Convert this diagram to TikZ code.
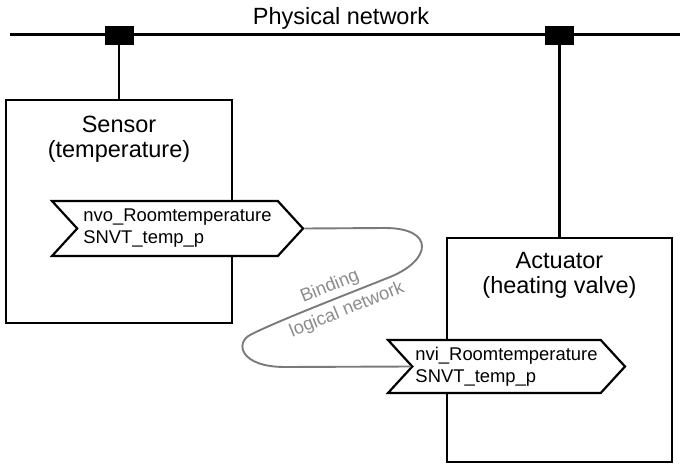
\documentclass[tikz,border=0pt]{standalone}
\usepackage{fontspec}
\setmainfont{Liberation Sans}
\usetikzlibrary{positioning,shapes.symbols}
\definecolor{LinkGray}{HTML}{7A7A7A}
\definecolor{LabelGray}{HTML}{8C8C8C}
\tikzset{
  device/.style={draw, line width=2.4pt, inner sep=0pt},
  devtext/.style={align=center, inner sep=0pt, font=\fontsize{23.5}{25}\selectfont},
  tap/.style={draw, fill=black, minimum width=28pt, minimum height=18pt, inner sep=0pt},
  port/.style={signal, signal from=west, signal to=east, signal pointer angle=95, draw, fill=white, line width=2.2pt, minimum height=55pt, align=left, inner sep=0pt, font=\fontsize{18.4}{22}\selectfont},
  wire/.style={line width=2.2pt},
  binding/.style={draw=LinkGray, line width=1.9pt},
  bindtext/.style={text=LabelGray, rotate=22, inner sep=0pt, font=\fontsize{18.4}{22}\selectfont}
}

\begin{document}
\begin{tikzpicture}[x=1pt, y=-1pt]
    \useasboundingbox (0,0) rectangle (680,465);
    \coordinate (busW) at (10,34.5);
    \coordinate (busE) at (680,34.5);
    \draw[wire] (busW) -- (busE);
    \node[anchor=base, font=\fontsize{23.5}{25}\selectfont] (bus) at (341,25) {Physical network};
    \node[tap] (tapS) at (119,35) {};
    \node[tap] (tapA) at (559.5,35) {};

    \node[device, minimum width=226pt, minimum height=223pt] (sensor) at (119,211.5) {};
    \node[device, minimum width=225pt, minimum height=224pt] (actuator) at (559.5,350) {};
    \node[devtext, below=17pt of sensor.north] (sensorname) {Sensor\\(temperature)};
    \node[devtext, below=15pt of actuator.north] (actuatorname) {Actuator\\(heating valve)};

    \draw[wire] (tapS) -- (sensor);
    \draw[wire] (tapA) -- (actuator);

    \node[port, minimum width=251pt] (nvo) at (177.5,228.5) {nvo\_Roomtemperature\\SNVT\_temp\_p};
    \node[port, minimum width=237pt, minimum height=53pt] (nvi) at (506.5,366.5) {nvi\_Roomtemperature\\SNVT\_temp\_p};

    \draw[binding] (nvo.east) -- (385,228) .. controls (435,228) and (432,260) .. (390,277)
      .. controls (340,297) and (275,322) .. (250,335)
      .. controls (235,343) and (240,367) .. (285,367) -- (nvi.west);
    \node[bindtext] (bindname) at (330,287) {Binding};
    \node[bindtext] (logicname) at (347,310) {logical network};
  \end{tikzpicture}
\end{document}
